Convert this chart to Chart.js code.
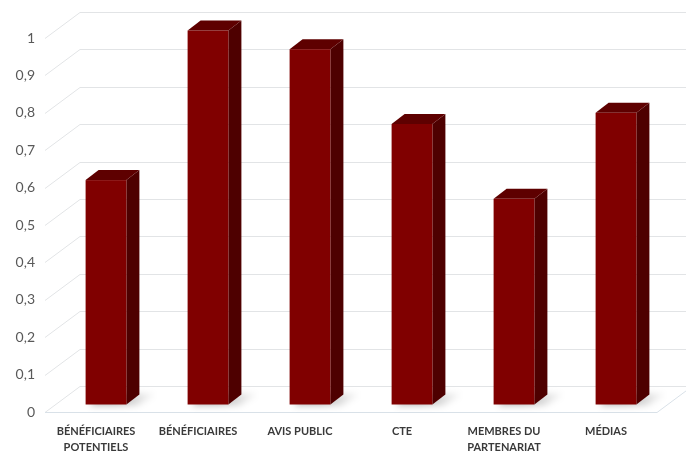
<!DOCTYPE html>
<html>
<head>
<meta charset="utf-8">
<script src="https://cdn.jsdelivr.net/npm/chart.js@4.4.1/dist/chart.umd.min.js"></script>
<style>
  html, body { margin: 0; padding: 0; background: #fff; }
  #wrap { width: 686px; height: 453px; }
</style>
</head>
<body>
<div id="wrap"><canvas id="chart"></canvas></div>
<script>
const categories = [
    ["BÉNÉFICIAIRES", "POTENTIELS"],
    "BÉNÉFICIAIRES",
    "AVIS PUBLIC",
    "CTE",
    ["MEMBRES DU", "PARTENARIAT"],
    "MÉDIAS"
];
const values = [0.6, 1, 0.95, 0.75, 0.55, 0.78];
const yTicks = [0, 0.1, 0.2, 0.3, 0.4, 0.5, 0.6, 0.7, 0.8, 0.9, 1];

// 3D look: back wall offset, bar front offset and bar depth
const WALL_DX = 35, WALL_DY = -26;
const BAR_SHIFT_X = 10, BAR_SHIFT_Y = -7.5;
const BAR_DX = 13, BAR_DY = -10;

function poly(ctx, pts) {
    ctx.beginPath();
    ctx.moveTo(pts[0][0], pts[0][1]);
    for (let i = 1; i < pts.length; i++) ctx.lineTo(pts[i][0], pts[i][1]);
    ctx.closePath();
    ctx.fill();
}

const box3d = {
    id: "box3d",
    beforeDatasetsDraw(chart) {
        let ctx = chart.ctx;
        let a = chart.chartArea;
        let y = chart.scales.y;
        ctx.save();
        ctx.lineWidth = 1;
        ctx.strokeStyle = "#e2e4e6";
        yTicks.forEach(v => {
            let py = Math.round(y.getPixelForValue(v)) + 0.5;
            ctx.beginPath();
            ctx.moveTo(a.left, py);
            ctx.lineTo(a.left + WALL_DX, py + WALL_DY);
            ctx.lineTo(chart.width, py + WALL_DY);
            ctx.stroke();
        });
        // floor front edge
        let fy = Math.round(y.getPixelForValue(0)) + 0.5;
        ctx.strokeStyle = "#d9e1e8";
        ctx.beginPath();
        ctx.moveTo(a.left, fy);
        ctx.lineTo(a.right, fy);
        ctx.lineTo(a.right + WALL_DX, fy + WALL_DY);
        ctx.stroke();
        ctx.restore();
    },
    afterDatasetsDraw(chart) {
        let ctx = chart.ctx;
        let meta = chart.getDatasetMeta(0);
        ctx.save();
        meta.data.forEach(bar => {
            let p = bar.getProps(["x", "y", "base", "width"], true);
            let l = p.x - p.width / 2 + BAR_SHIFT_X;
            let r = l + p.width;
            let t = p.y + BAR_SHIFT_Y;
            let b = p.base + BAR_SHIFT_Y;

            // soft floor shadow
            ctx.save();
            ctx.filter = "blur(3px)";
            let g = ctx.createLinearGradient(r - 10, b, r + 30, b + BAR_DY);
            g.addColorStop(0, "rgba(0,0,0,0.28)");
            g.addColorStop(1, "rgba(0,0,0,0)");
            ctx.fillStyle = g;
            poly(ctx, [[l + 4, b + 1], [r + 10, b + 1], [r + BAR_DX + 22, b + BAR_DY - 2], [l + BAR_DX, b + BAR_DY]]);
            ctx.restore();

            // side face
            ctx.fillStyle = "#4e0000";
            poly(ctx, [[r, t], [r + BAR_DX, t + BAR_DY], [r + BAR_DX, b + BAR_DY], [r, b]]);
            // top face
            ctx.fillStyle = "#5e0000";
            poly(ctx, [[l, t], [l + BAR_DX, t + BAR_DY], [r + BAR_DX, t + BAR_DY], [r, t]]);
            // front face
            ctx.fillStyle = "#800000";
            ctx.fillRect(l, t, r - l, b - t);
        });
        ctx.restore();
    }
};

new Chart(document.getElementById("chart"), {
    type: "bar",
    data: {
        labels: categories,
        datasets: [{
            data: values,
            backgroundColor: "rgba(0,0,0,0)",
            borderWidth: 0,
            categoryPercentage: 1,
            barPercentage: 0.4
        }]
    },
    options: {
        responsive: true,
        maintainAspectRatio: false,
        animation: false,
        layout: { padding: { left: 0, right: 29, top: 38, bottom: 0 } },
        plugins: {
            legend: { display: false },
            tooltip: { enabled: false }
        },
        scales: {
            x: {
                grid: { display: false, drawTicks: false },
                border: { display: false },
                ticks: {
                    color: "#3a3a3a",
                    font: { family: "Lato", size: 11, weight: "bold", lineHeight: 1.4 },
                    maxRotation: 0,
                    autoSkip: false,
                    padding: 12
                },
                afterFit: s => { s.height = 41; }
            },
            y: {
                min: 0,
                max: 1,
                grid: { display: false, drawTicks: false },
                border: { display: false },
                ticks: {
                    color: "#595959",
                    font: { family: "Lato", size: 14 },
                    padding: 10,
                    callback: v => (v === 0 || v === 1) ? String(v) : v.toFixed(1).replace(".", ",")
                },
                afterBuildTicks: s => { s.ticks = yTicks.map(v => ({ value: v })); },
                afterFit: s => { s.width = 45; }
            }
        }
    },
    plugins: [box3d]
});
</script>
</body>
</html>
